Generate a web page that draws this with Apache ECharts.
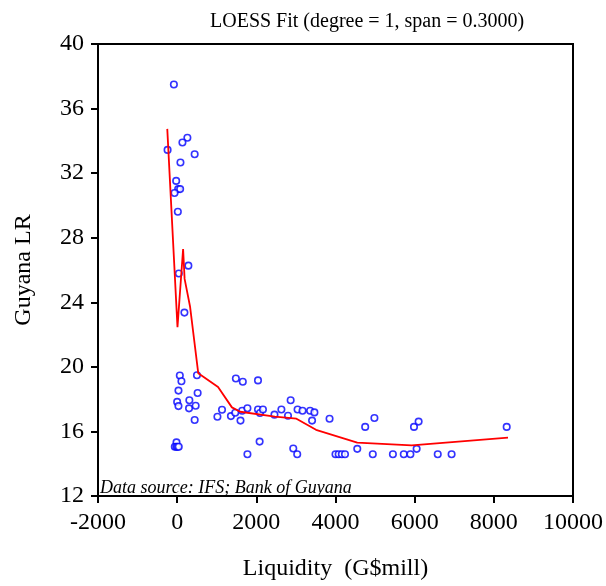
<!DOCTYPE html>
<html><head><meta charset="utf-8">
<script src="https://cdn.jsdelivr.net/npm/echarts@6/dist/echarts.min.js"></script>
<style>html,body{margin:0;padding:0;background:#fff}#c{width:606px;height:586px}</style>
</head><body><div id="c"></div>
<script>
var liquidity = [-83,258,133,-242,442,83,-25,25,75,-67,17,283,42,183,67,108,500,33,517,0,33,308,300,467,442,-17,-60,-20,10,40,1133,1017,1358,1483,1658,2042,1467,1642,1775,1600,2042,2092,2167,2458,2633,2800,2867,3042,3167,3358,3467,3408,3850,2083,1775,2933,3033,4000,4080,4160,4240,4750,4983,5983,6100,8325,4550,6050,4942,5450,5725,5892,6583,6933];
var guyanaLR = [37.49,34.19,33.9,33.44,33.17,32.66,31.52,31.01,31.01,30.77,29.61,26.27,25.78,23.36,19.46,19.11,19.48,18.53,18.38,17.83,17.57,17.93,17.43,17.59,16.71,15.32,15.05,15.05,15.05,15.05,17.34,16.91,16.95,19.28,19.08,19.16,17.16,17.28,17.44,16.67,17.36,17.14,17.36,17.04,17.36,16.97,17.93,17.36,17.28,17.28,17.18,16.67,16.79,15.37,14.59,14.94,14.59,14.59,14.59,14.59,14.59,16.28,16.83,16.28,16.61,16.28,14.92,14.92,14.59,14.59,14.59,14.59,14.59,14.59];
var fitX = [-250,8,150,188,325,533,1033,1383,1592,2468,3013,3508,4550,5925,8358];
var fitY = [34.74,22.46,27.30,25.45,23.74,19.60,18.75,17.49,17.22,16.92,16.79,16.10,15.31,15.14,15.61];
var xTicks = [-2000,0,2000,4000,6000,8000,10000];
var yTicks = [12,16,20,24,28,32,36,40];
var titleText = 'LOESS Fit (degree = 1, span = 0.3000)';
var sourceText = 'Data source: IFS; Bank of Guyana';

var scatterData = liquidity.map(function(v,i){return [v, guyanaLR[i]];});
var fitData = fitX.map(function(v,i){return [v, fitY[i]];});
var serif = '"Liberation Serif","Times New Roman",serif';

var chart = echarts.init(document.getElementById('c'), null, {renderer:'canvas'});
chart.setOption({
  animation:false,
  backgroundColor:'#fff',
  title:{text:titleText,left:205,top:7,textStyle:{fontFamily:serif,fontSize:20,fontWeight:'normal',color:'#000'}},
  grid:{left:98,top:44,width:480,height:458,show:true,borderColor:'#000',borderWidth:2,backgroundColor:'transparent'},
  xAxis:{type:'value',min:xTicks[0],max:xTicks[xTicks.length-1],interval:2000,
    name:'Liquidity  (G$mill)',nameLocation:'middle',nameGap:61,
    nameTextStyle:{fontFamily:serif,fontSize:24,color:'#000'},
    axisLine:{onZero:false,lineStyle:{color:'#000',width:2}},
    axisTick:{show:true,length:7,lineStyle:{color:'#000',width:2}},
    axisLabel:{fontFamily:serif,fontSize:24,color:'#000',margin:15,formatter:function(v){return String(v);}},
    splitLine:{show:false}},
  yAxis:{type:'value',min:yTicks[0],max:yTicks[yTicks.length-1],interval:4,
    name:'Guyana LR',nameLocation:'middle',nameGap:62,nameRotate:90,
    nameTextStyle:{fontFamily:serif,fontSize:24,color:'#000'},
    axisLine:{onZero:false,lineStyle:{color:'#000',width:2}},
    axisTick:{show:true,length:7,lineStyle:{color:'#000',width:2}},
    axisLabel:{fontFamily:serif,fontSize:24,color:'#000',margin:14,formatter:function(v){return String(v);}},
    splitLine:{show:false}},
  graphic:[{type:'text',left:100,top:479,style:{text:sourceText,font:'italic 18px '+serif,fill:'#000'}}],
  series:[
    {type:'scatter',data:scatterData,symbol:'circle',symbolSize:6.5,
     itemStyle:{color:'#fff',borderColor:'#0000ff',borderWidth:1.6},z:3},
    {type:'line',data:fitData,showSymbol:false,symbol:'none',
     lineStyle:{color:'#ff0000',width:1.8},z:4}
  ]
});
</script></body></html>
